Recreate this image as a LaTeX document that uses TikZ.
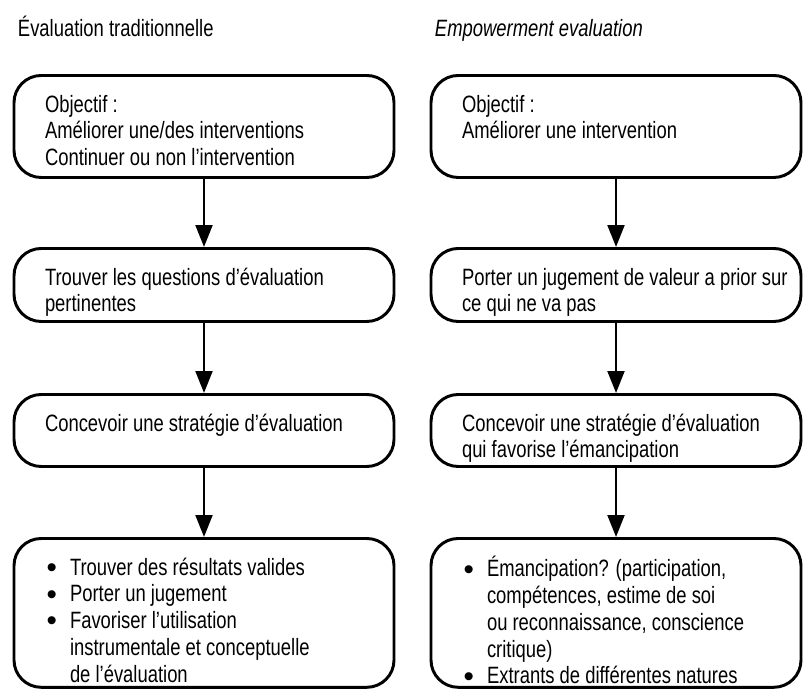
\documentclass[tikz,border=0pt]{standalone}
\usepackage{fontspec}
\setmainfont{Liberation Sans}[FakeStretch=0.78]
\newfontfamily\pucefont{Liberation Sans}
\usetikzlibrary{arrows.meta}

\newcommand{\puce}{\makebox[0.625cm][l]{\hspace{0.04cm}\raisebox{-1.6pt}[0pt][0pt]{\pucefont\fontsize{21}{19}\selectfont\textbullet}}}
\newcommand{\suite}{\hspace*{0.625cm}}
\newcommand{\contenu}[3]{\parbox[c][#2][t]{#1}{\vspace*{0.45cm}\hspace*{0.775cm}\begin{tabular}[t]{@{}l@{}}#3\end{tabular}}}

\tikzset{
  boite/.style={draw, line width=2.1pt, rounded corners=0.68cm, inner sep=0pt, anchor=north},
  fleche/.style={-{Triangle[length=0.55cm, width=0.42cm]}, line width=1.9pt},
}

\begin{document}
\begin{tikzpicture}[font=\fontsize{16.8}{19}\selectfont]
\useasboundingbox (0,0) rectangle (20.075,-17.225);

\node[anchor=base west] (titreg) at (0.325,-0.9) {Évaluation traditionnelle};
\node[anchor=base west] (titred) at (10.75,-0.9) {\itshape Empowerment evaluation};

% colonne de gauche
\node[boite] (g1) at (5.1,-1.85) {\contenu{9.5cm}{2.55cm}{Objectif :\\Améliorer une/des interventions\\Continuer ou non l’intervention}};
\node[boite] (g2) at (5.1,-6.175) {\contenu{9.5cm}{1.825cm}{Trouver les questions d’évaluation\\pertinentes}};
\node[boite] (g3) at (5.1,-9.825) {\contenu{9.5cm}{1.8cm}{Concevoir une stratégie d’évaluation}};
\node[boite] (g4) at (5.1,-13.425) {\contenu{9.5cm}{3.72cm}{\puce Trouver des résultats valides\\\puce Porter un jugement\\\puce Favoriser l’utilisation\\\suite instrumentale et conceptuelle\\\suite de l’évaluation}};

% colonne de droite
\node[boite] (d1) at (15.4,-1.85) {\contenu{9.25cm}{2.55cm}{Objectif :\\Améliorer une intervention}};
\node[boite] (d2) at (15.4,-6.175) {\contenu{9.25cm}{1.825cm}{Porter un jugement de valeur a prior sur\\ce qui ne va pas}};
\node[boite] (d3) at (15.4,-9.825) {\contenu{9.25cm}{1.8cm}{Concevoir une stratégie d’évaluation\\qui favorise l’émancipation}};
\node[boite] (d4) at (15.4,-13.425) {\contenu{9.25cm}{3.72cm}{\puce Émancipation? (participation,\\\suite compétences, estime de soi\\\suite ou reconnaissance, conscience\\\suite critique)\\\puce Extrants de différentes natures}};

\draw[fleche] (g1) -- (g2);
\draw[fleche] (g2) -- (g3);
\draw[fleche] (g3) -- (g4);
\draw[fleche] (d1) -- (d2);
\draw[fleche] (d2) -- (d3);
\draw[fleche] (d3) -- (d4);
\end{tikzpicture}
\end{document}
